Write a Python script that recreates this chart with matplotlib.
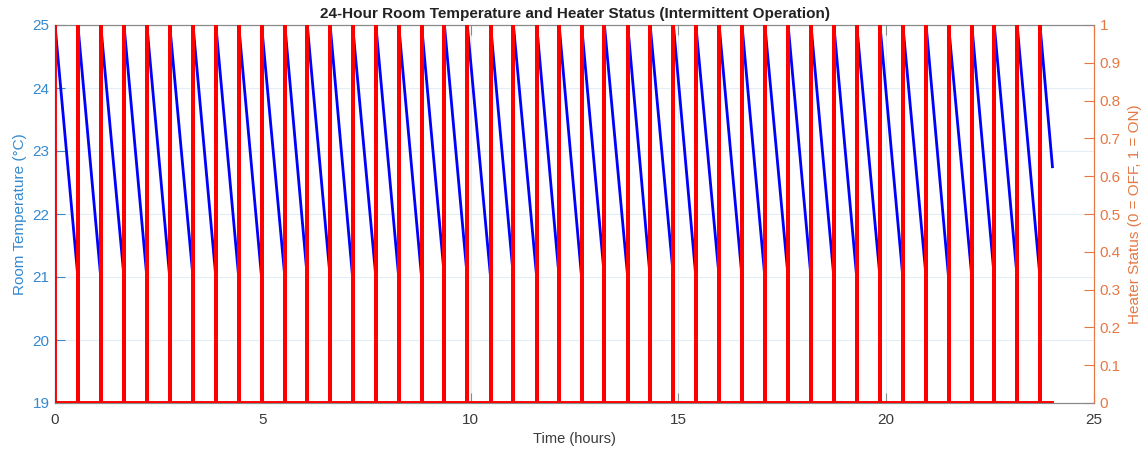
import matplotlib
matplotlib.use("Agg")
import matplotlib.pyplot as plt

plt.rcParams['font.family'] = ['Liberation Sans', 'DejaVu Sans']

# reset times (hours) where the heater switches on and the room goes back to 25 C
reset_times = [0.55, 1.10, 1.66, 2.21, 2.76, 3.32, 3.87, 4.42, 4.97, 5.53,
               6.07, 6.62, 7.16, 7.72, 8.27, 8.82, 9.37, 9.92, 10.48, 11.03,
               11.59, 12.13, 12.67, 13.22, 13.78, 14.32, 14.88, 15.42, 15.98, 16.53,
               17.08, 17.64, 18.19, 18.74, 19.29, 19.85, 20.40, 20.96, 21.50, 22.06,
               22.60, 23.15, 23.70]
t_start = 0.0
t_end = 24.0
temp_high = 25.0
temp_low = 21.0
temp_final = 22.75
heater_on = 1
heater_off = 0

left_color = '#3489cf'
right_color = '#e57843'

# temperature sawtooth
temp_x = [t_start]
temp_y = [temp_high]
for t in reset_times:
    temp_x += [t, t]
    temp_y += [temp_low, temp_high]
temp_x.append(t_end)
temp_y.append(temp_final)

# heater spikes
heat_x = [t_start, t_start]
heat_y = [heater_on, heater_off]
for t in reset_times:
    heat_x += [t, t, t]
    heat_y += [heater_off, heater_on, heater_off]
heat_x.append(t_end)
heat_y.append(heater_off)

fig = plt.figure(figsize=(11.48, 4.5), dpi=100)
ax1 = fig.add_axes([55 / 1148, 1 - 403 / 450, (1094 - 55) / 1148, (403 - 25) / 450])
ax2 = ax1.twinx()

ax1.plot(temp_x, temp_y, color='#0000ff', lw=2.0, zorder=3)
ax2.plot(heat_x, heat_y, color='#ff0000', lw=2.8, zorder=4)

ax1.set_xlim(0, 25)
ax1.set_ylim(19, 25)
ax2.set_ylim(0, 1)
ax1.set_xticks([0, 5, 10, 15, 20, 25])
ax1.set_yticks([19, 20, 21, 22, 23, 24, 25])
ax2.set_yticks([i / 10 for i in range(11)])
ax2.set_yticklabels(['0'] + ['%.1f' % (i / 10) for i in range(1, 10)] + ['1'])

ax1.grid(True, color='#e3edf7', lw=0.8, zorder=0)
ax1.set_axisbelow(True)

ax1.tick_params(axis='x', direction='in', length=7, colors='#8a8a8a',
                labelcolor='#3a3a3a', labelsize=11, top=True, pad=7)
ax1.tick_params(axis='y', direction='in', length=7, colors=left_color, labelsize=11, pad=4)
ax2.tick_params(axis='y', direction='in', length=7, colors=right_color, labelsize=11, pad=4)

for ax in (ax1, ax2):
    ax.spines['top'].set_color('#8a8a8a')
    ax.spines['bottom'].set_color('#8a8a8a')
    ax.spines['left'].set_color(left_color)
    ax.spines['right'].set_color(right_color)

ax1.set_xlabel('Time (hours)', fontsize=10.5, color='#3a3a3a', labelpad=4)
ax1.set_ylabel('Room Temperature (°C)', fontsize=11, color=left_color, labelpad=4)
ax2.set_ylabel('Heater Status (0 = OFF, 1 = ON)', fontsize=11, color=right_color, labelpad=5)
ax1.set_title('24-Hour Room Temperature and Heater Status (Intermittent Operation)',
              fontsize=11, fontweight='bold', color='#222222', pad=5)

fig.savefig('out.png', dpi=100)
